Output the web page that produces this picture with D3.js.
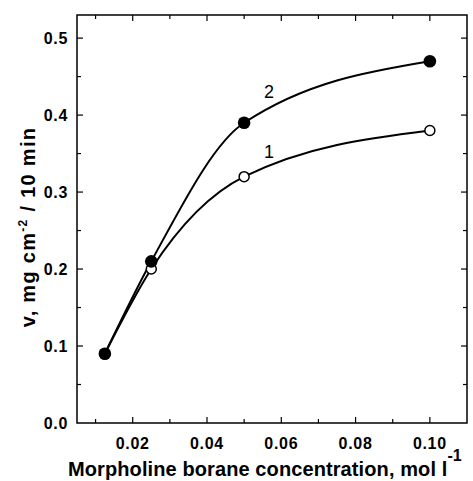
<!DOCTYPE html>
<html lang="en">
<head>
  <meta charset="UTF-8">
  <title>Morpholine borane</title>
  <script src="https://d3js.org/d3.v7.min.js"></script>
  <style>
    body { margin: 0; background: #fff; }
    text { font-family: Arial, "Liberation Sans", sans-serif; }
  </style>
</head>
<body>
  <script>
    // data
    var conc1 = [0.0125, 0.025, 0.05, 0.10];
    var rate1 = [0.09, 0.20, 0.32, 0.38];
    var conc2 = [0.0125, 0.025, 0.05, 0.10];
    var rate2 = [0.09, 0.21, 0.39, 0.47];
    var xTicks = [0.02, 0.04, 0.06, 0.08, 0.10];
    var xMinor = [0.01, 0.03, 0.05, 0.07, 0.09];
    var yTicks = [0.0, 0.1, 0.2, 0.3, 0.4, 0.5];
    var yMinor = [0.05, 0.15, 0.25, 0.35, 0.45];

    var W = 473, H = 481;
    var margin = { top: 15, right: 6, bottom: 58, left: 77 };
    var width = W - margin.left - margin.right;
    var height = H - margin.top - margin.bottom;

    var x = d3.scaleLinear().domain([0.005, 0.11]).range([0, width]);
    var y = d3.scaleLinear().domain([0, 0.53]).range([height, 0]);

    var svg = d3.select("body").append("svg")
      .attr("width", W)
      .attr("height", H);
    var g = svg.append("g")
      .attr("transform", "translate(" + margin.left + "," + margin.top + ")");

    // frame
    g.append("rect")
      .attr("width", width).attr("height", height)
      .attr("fill", "none").attr("stroke", "#000").attr("stroke-width", 1.5);

    function tickLines(vals, len, axis) {
      vals.forEach(function (v) {
        if (axis === "x") {
          g.append("line").attr("x1", x(v)).attr("x2", x(v)).attr("y1", height).attr("y2", height - len);
          g.append("line").attr("x1", x(v)).attr("x2", x(v)).attr("y1", 0).attr("y2", len);
        } else {
          g.append("line").attr("y1", y(v)).attr("y2", y(v)).attr("x1", 0).attr("x2", len);
          g.append("line").attr("y1", y(v)).attr("y2", y(v)).attr("x1", width).attr("x2", width - len);
        }
      });
    }
    tickLines(xTicks, 6, "x");
    tickLines(xMinor, 4, "x");
    tickLines(yTicks.slice(1), 6, "y");
    tickLines(yMinor, 4, "y");
    g.selectAll("line").attr("stroke", "#000").attr("stroke-width", 1.2);

    // tick labels
    g.selectAll(".xl").data(xTicks).enter().append("text")
      .attr("x", function (d) { return x(d); })
      .attr("y", height + 26)
      .attr("text-anchor", "middle")
      .style("font-size", "16px").style("font-weight", "bold").style("letter-spacing", "0.7px")
      .text(function (d) { return d3.format(".2f")(d); });

    g.selectAll(".yl").data(yTicks).enter().append("text")
      .attr("x", -9)
      .attr("y", function (d) { return y(d) + 6; })
      .attr("text-anchor", "end")
      .style("font-size", "16px").style("font-weight", "bold").style("letter-spacing", "0.7px")
      .text(function (d) { return d3.format(".1f")(d); });

    // curves
    var line = d3.line()
      .x(function (d) { return x(d[0]); })
      .y(function (d) { return y(d[1]); })
      .curve(d3.curveMonotoneX);

    var s1 = conc1.map(function (c, i) { return [c, rate1[i]]; });
    var s2 = conc2.map(function (c, i) { return [c, rate2[i]]; });

    g.append("path").datum(s1).attr("d", line)
      .attr("fill", "none").attr("stroke", "#000").attr("stroke-width", 2);
    g.append("path").datum(s2).attr("d", line)
      .attr("fill", "none").attr("stroke", "#000").attr("stroke-width", 2);

    g.selectAll(".p1").data(s1).enter().append("circle")
      .attr("cx", function (d) { return x(d[0]); })
      .attr("cy", function (d) { return y(d[1]); })
      .attr("r", 5).attr("fill", "#fff").attr("stroke", "#000").attr("stroke-width", 1.5);
    g.selectAll(".p2").data(s2).enter().append("circle")
      .attr("cx", function (d) { return x(d[0]); })
      .attr("cy", function (d) { return y(d[1]); })
      .attr("r", 6.3).attr("fill", "#000");

    // series labels
    g.append("text").attr("x", 269 - margin.left).attr("y", 98 - margin.top)
      .attr("text-anchor", "middle").style("font-size", "18px").text("2");
    g.append("text").attr("x", 269 - margin.left).attr("y", 158 - margin.top)
      .attr("text-anchor", "middle").style("font-size", "18px").text("1");

    // axis titles
    var xt = svg.append("text")
      .attr("x", 68)
      .attr("y", 476)
      .attr("text-anchor", "start")
      .style("font-size", "20px").style("font-weight", "bold").style("letter-spacing", "0.1px");
    xt.append("tspan").text("Morpholine borane concentration, mol l");
    xt.append("tspan").attr("dy", -15).style("font-size", "16px").style("letter-spacing", "0px").text("-1");

    var yt = svg.append("text")
      .attr("transform", "translate(35," + 227 + ") rotate(-90)")
      .attr("text-anchor", "middle")
      .style("font-size", "20px").style("font-weight", "bold").style("letter-spacing", "1.3px");
    yt.append("tspan").text("v, mg cm");
    yt.append("tspan").attr("dy", -8).style("font-size", "12px").text("-2");
    yt.append("tspan").attr("dy", 8).text(" / 10 min");
  </script>
</body>
</html>
